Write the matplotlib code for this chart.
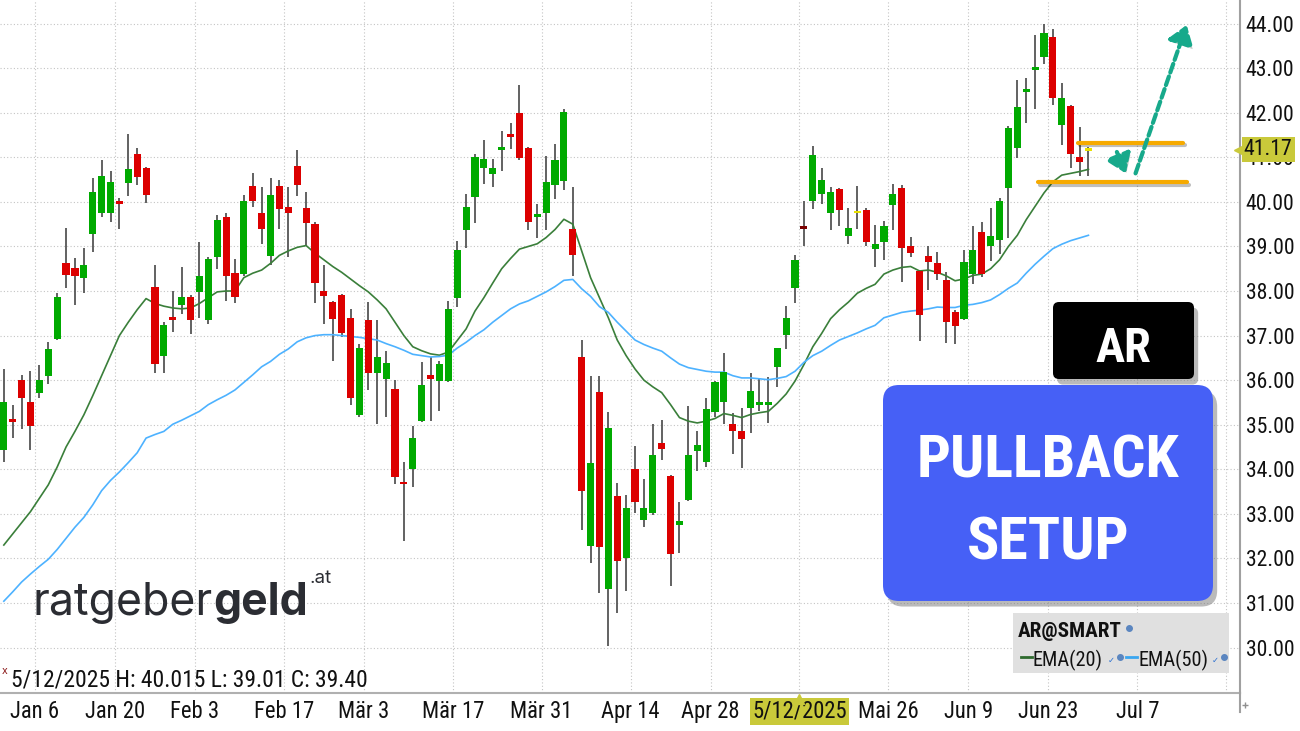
import os
import numpy as np
import pandas as pd
import matplotlib
matplotlib.use("Agg")
import matplotlib.pyplot as plt
import matplotlib.transforms as mtransforms
import matplotlib.patheffects as pe
from matplotlib import font_manager
from matplotlib.font_manager import FontProperties
from matplotlib.patches import FancyBboxPatch, Rectangle

# --- data (AR daily candles, Dec 30 2024 .. Jun 27 2025) ---
holidays = ["2025-01-01", "2025-01-09", "2025-01-20", "2025-02-17",
            "2025-04-18", "2025-05-26", "2025-06-19"]

opens = [34.43, 35.12, 36.01, 35.50, 35.71, 36.09, 36.93, 38.63, 38.51, 38.30,
         39.28, 39.74, 39.74, 40.00, 40.43, 41.07, 40.75, 38.10, 36.55, 37.41,
         37.69, 37.86, 37.97, 37.36, 38.76, 39.66, 38.40, 38.38, 40.36, 39.76,
         38.78, 40.36, 39.89, 40.81, 39.87, 39.51, 38.00, 37.76, 37.91, 37.40,
         35.22, 37.34, 36.15, 36.02, 35.80, 33.71, 34.01, 35.09, 36.12, 35.97,
         35.97, 37.85, 39.36, 40.12, 40.77, 40.63, 41.19, 41.52, 42.00, 41.22,
         39.68, 39.74, 40.39, 40.47, 39.40, 36.53, 32.28, 35.73, 31.31, 33.40,
         32.02, 34.00, 32.86, 33.02, 34.58, 33.85, 32.75, 33.30, 34.41, 34.16,
         35.29, 35.52, 35.01, 34.86, 35.38, 35.47, 35.47, 36.29, 37.02, 38.07,
         39.44, 40.02, 40.17, 39.74, 40.29, 39.23, 39.77, 39.81, 38.94, 39.09,
         39.92, 40.32, 39.00, 38.45, 38.79, 38.63, 38.24, 37.54, 37.38, 38.38,
         39.32, 39.00, 39.15, 40.32, 41.22, 42.49, 42.99, 43.25, 43.69, 41.72,
         42.16, 41.00, 41.17]
highs = [36.25, 35.45, 36.12, 36.20, 36.33, 36.86, 37.95, 39.42, 38.75, 38.96,
         40.53, 40.93, 40.70, 40.08, 41.52, 41.21, 40.78, 38.59, 37.31, 38.00,
         38.55, 37.91, 39.11, 38.76, 39.70, 39.76, 38.72, 40.16, 40.64, 40.34,
         40.53, 40.49, 40.33, 41.17, 40.22, 39.55, 38.59, 37.78, 37.93, 37.60,
         36.80, 37.76, 37.34, 36.65, 36.01, 34.16, 34.98, 36.40, 36.52, 36.42,
         37.77, 39.12, 40.18, 41.08, 41.39, 40.96, 41.60, 41.76, 42.63, 41.24,
         39.95, 41.03, 41.31, 42.08, 40.33, 36.89, 36.09, 36.09, 35.29, 33.69,
         33.43, 34.53, 33.79, 35.01, 35.10, 33.87, 33.26, 35.41, 34.86, 35.61,
         35.99, 36.61, 35.27, 35.38, 36.16, 36.02, 36.08, 36.73, 37.66, 38.81,
         40.015, 41.26, 40.75, 40.33, 40.31, 39.86, 40.36, 39.87, 39.49, 39.58,
         40.40, 40.39, 39.22, 38.47, 39.02, 38.87, 38.42, 37.57, 38.91, 39.46,
         39.55, 39.86, 40.09, 41.70, 42.73, 42.79, 43.74, 44.00, 43.89, 42.66,
         42.18, 41.69, 41.24]
lows = [34.16, 34.71, 34.90, 34.43, 35.61, 35.91, 36.89, 38.06, 37.68, 37.95,
        38.88, 39.65, 39.55, 39.40, 40.13, 40.39, 39.98, 36.15, 36.15, 37.08,
        37.48, 37.03, 37.40, 37.25, 38.49, 37.78, 37.74, 38.34, 39.89, 39.06,
        38.59, 39.40, 38.76, 40.13, 39.02, 37.74, 37.27, 36.42, 36.97, 35.44,
        35.18, 35.78, 35.01, 35.18, 33.66, 32.38, 33.60, 35.05, 35.09, 35.31,
        35.95, 37.64, 38.96, 39.53, 40.40, 40.33, 40.70, 41.19, 40.94, 39.38,
        39.20, 39.38, 40.06, 40.26, 38.33, 32.64, 31.89, 31.23, 30.04, 30.78,
        31.27, 33.02, 32.71, 32.98, 34.20, 31.38, 32.13, 33.28, 33.97, 34.05,
        35.18, 35.01, 34.34, 34.03, 34.82, 35.31, 35.03, 35.84, 36.69, 37.74,
        39.01, 39.83, 39.96, 39.36, 39.46, 39.06, 39.40, 39.02, 38.53, 38.70,
        39.36, 38.21, 38.76, 36.87, 38.02, 38.25, 36.83, 36.80, 37.34, 38.15,
        38.32, 38.68, 38.83, 39.19, 40.99, 41.76, 42.08, 43.10, 42.17, 41.28,
        40.75, 40.57, 40.57]
closes = [35.52, 35.08, 35.59, 34.96, 36.01, 36.69, 37.87, 38.35, 38.33, 38.59,
          40.23, 40.57, 40.45, 39.96, 40.74, 40.56, 40.16, 36.37, 37.23, 37.37,
          37.86, 37.34, 38.34, 38.72, 39.60, 38.33, 37.87, 40.02, 40.03, 39.40,
          40.16, 39.85, 39.75, 40.37, 39.52, 38.17, 37.89, 37.37, 37.06, 35.61,
          36.72, 36.16, 36.53, 36.39, 33.82, 33.67, 34.71, 35.89, 36.03, 36.37,
          37.59, 38.91, 39.88, 41.01, 40.97, 40.77, 41.22, 41.45, 40.98, 39.54,
          39.71, 40.45, 40.93, 42.02, 38.81, 33.51, 34.14, 32.25, 34.92, 31.95,
          33.13, 33.26, 33.13, 34.31, 34.45, 32.09, 32.84, 34.31, 34.54, 35.35,
          35.95, 36.19, 34.87, 34.69, 35.76, 35.49, 35.49, 36.72, 37.40, 38.70,
          39.40, 41.05, 40.50, 40.23, 39.81, 39.42, 39.77, 39.11, 39.05, 39.47,
          40.17, 38.97, 38.85, 37.47, 38.66, 38.38, 37.31, 37.21, 38.65, 38.92,
          38.38, 39.23, 40.03, 41.66, 42.12, 42.51, 43.01, 43.79, 42.32, 42.34,
          41.07, 40.89, 41.17]
ema20 = [32.30, 32.55, 32.80, 33.05, 33.35, 33.65, 34.05, 34.50, 34.85, 35.22,
         35.65, 36.10, 36.55, 37.00, 37.30, 37.58, 37.83, 37.72, 37.66, 37.62,
         37.60, 37.62, 37.72, 37.85, 37.98, 38.00, 38.00, 38.30, 38.40, 38.47,
         38.62, 38.80, 38.90, 38.98, 39.02, 38.85, 38.70, 38.55, 38.42, 38.27,
         38.12, 37.98, 37.80, 37.60, 37.30, 37.00, 36.75, 36.66, 36.59, 36.56,
         36.63, 36.89, 37.15, 37.55, 37.85, 38.18, 38.50, 38.73, 38.94, 39.00,
         39.06, 39.20, 39.38, 39.61, 39.50, 38.90, 38.30, 37.85, 37.40, 36.90,
         36.55, 36.25, 36.00, 35.85, 35.72, 35.45, 35.16, 35.08, 35.04, 35.08,
         35.14, 35.25, 35.21, 35.16, 35.23, 35.27, 35.30, 35.48, 35.69, 35.98,
         36.35, 36.75, 37.05, 37.38, 37.58, 37.75, 37.95, 38.06, 38.15, 38.38,
         38.47, 38.53, 38.55, 38.45, 38.47, 38.42, 38.34, 38.23, 38.27, 38.35,
         38.38, 38.50, 38.70, 39.00, 39.25, 39.60, 39.90, 40.20, 40.45, 40.60,
         40.64, 40.68, 40.73]
ema50 = [31.04, 31.25, 31.47, 31.65, 31.82, 31.98, 32.20, 32.45, 32.70, 32.92,
         33.20, 33.52, 33.75, 33.94, 34.15, 34.37, 34.70, 34.78, 34.85, 35.01,
         35.10, 35.20, 35.30, 35.45, 35.56, 35.66, 35.78, 35.95, 36.12, 36.30,
         36.42, 36.58, 36.70, 36.86, 36.95, 37.00, 37.02, 37.02, 37.00, 36.98,
         36.96, 36.93, 36.90, 36.82, 36.75, 36.67, 36.58, 36.55, 36.52, 36.53,
         36.56, 36.72, 36.85, 37.00, 37.13, 37.30, 37.45, 37.60, 37.71, 37.78,
         37.88, 37.98, 38.10, 38.24, 38.26, 38.05, 37.88, 37.65, 37.52, 37.30,
         37.10, 36.90, 36.80, 36.72, 36.65, 36.50, 36.36, 36.28, 36.24, 36.20,
         36.18, 36.18, 36.10, 36.05, 36.05, 36.03, 36.01, 36.04, 36.08, 36.20,
         36.40, 36.55, 36.65, 36.78, 36.90, 36.98, 37.06, 37.15, 37.23, 37.40,
         37.46, 37.52, 37.55, 37.57, 37.60, 37.64, 37.63, 37.63, 37.68, 37.70,
         37.74, 37.80, 37.92, 38.06, 38.18, 38.40, 38.60, 38.78, 38.95, 39.05,
         39.13, 39.19, 39.25]

tick_dates = ["2025-01-06", "2025-01-20", "2025-02-03", "2025-02-17", "2025-03-03",
              "2025-03-17", "2025-03-31", "2025-04-14", "2025-04-28", "2025-05-12",
              "2025-05-26", "2025-06-09", "2025-06-23", "2025-07-07", "2025-07-21"]
tick_labels = ["Jan 6", "Jan 20", "Feb 3", "Feb 17", "Mär 3", "Mär 17", "Mär 31",
               "Apr 14", "Apr 28", "5/12/2025", "Mai 26", "Jun 9", "Jun 23", "Jul 7", ""]
selected_day = "2025-05-12"
price_ticks = list(range(30, 45))

# pullback setup drawing levels
resistance = 41.33
support = 40.45
target = 43.97


# --- fonts: look for a condensed face, fall back to DejaVu Sans ---
def pick_font(target_weight):
    prefs = ["liberationsansnarrow", "robotocondensed", "notosanscondensed",
             "opensanscondensed", "dejavusanscondensed", "condensed", "narrow"]
    best, best_score = None, None
    for f in font_manager.fontManager.ttflist:
        key = os.path.basename(f.fname).lower().replace("-", "").replace("_", "")
        if "narrow" not in key and "condensed" not in key:
            continue
        if any(s in key for s in ("semi", "extra", "ultra", "italic", "oblique")):
            continue
        w = f.weight if isinstance(f.weight, int) else 400
        rank = next(i for i, p in enumerate(prefs) if p in key)
        score = rank * 1000 + abs(w - target_weight)
        if abs(w - target_weight) > 250:
            continue
        if best_score is None or score < best_score:
            best, best_score = f, score
    if best is None:
        return FontProperties(family="DejaVu Sans",
                              weight="bold" if target_weight >= 600 else "normal")
    return FontProperties(fname=best.fname)


F_REG = pick_font(400)
F_BOLD = pick_font(700)
F_HEAVY = pick_font(900)
names = {f.name for f in font_manager.fontManager.ttflist}
LOGO = "Inter" if "Inter" in names else "DejaVu Sans"

GREEN = "#00aa00"
RED = "#dc0000"
YELLOW = "#e8e000"
SEL = "#7a0000"
TAG = "#c9c93a"
ORANGE = "#f6aa00"
TEAL = "#17a98b"

# trading calendar (future part without holidays like the chart software)
days = pd.bdate_range("2024-12-30", "2025-06-27")
days = days[~days.isin(pd.to_datetime(holidays))]
all_days = days.append(pd.bdate_range("2025-06-30", "2025-08-01"))
tick_pos = [all_days.searchsorted(pd.Timestamp(d)) - 0.5 for d in tick_dates]

o = np.array(opens)
h = np.array(highs)
l = np.array(lows)
c = np.array(closes)
x = np.arange(len(days))
sel = days.get_loc(pd.Timestamp(selected_day))

fig = plt.figure(figsize=(13, 7.31), dpi=100)
renderer = fig.canvas.get_renderer()


def size_for(text, prop, width):
    # font size that gives the text the wanted width in pixels
    t = fig.text(0, 0, text, fontproperties=prop, fontsize=20)
    w = t.get_window_extent(renderer).width
    t.remove()
    return 20 * width / w


def with_size(prop, size):
    p = prop.copy()
    p.set_size(size)
    return p


ax = fig.add_axes([0, 1 - 693 / 731, 1240 / 1300, 693 / 731])

# candles
cols = np.where(c > o, GREEN, np.where(c < o, RED, YELLOW)).astype(object)
cols[sel] = SEL
body = np.maximum(np.abs(c - o), 0.06)
bottom = (o + c) / 2 - body / 2
ax.vlines(x, l, h, color="#555555", lw=1.3, zorder=2)
ax.bar(x, body, bottom=bottom, width=0.8, color=list(cols), linewidth=0, zorder=3)

# moving averages
ax.plot(x, ema20, color="#3a7f3a", lw=1.2, zorder=2.5)
ax.plot(x, ema50, color="#4db2ff", lw=1.2, zorder=2.5)

xfont = with_size(F_REG, size_for("Feb 17", F_REG, 60))
yfont = with_size(F_REG, size_for("44.00", F_REG, 49))

ax.set_xlim(-0.43, 139.05)
ax.set_ylim(28.98, 44.53)
ax.set_xticks(tick_pos, tick_labels, fontproperties=xfont)
ax.set_yticks(price_ticks, [f"{v:.2f}" for v in price_ticks], fontproperties=yfont)
ax.yaxis.tick_right()
ax.tick_params(axis="x", length=0, pad=5, colors="#111111")
ax.tick_params(axis="y", length=0, pad=4, colors="#111111")
ax.grid(True, color="#c4c4c4", lw=0.8, linestyle=(0, (1, 2)))
ax.set_axisbelow(True)
for s in ["top", "left"]:
    ax.spines[s].set_visible(False)
ax.spines["right"].set_color("#a0a0a0")
ax.spines["right"].set_linewidth(1.5)
ax.spines["bottom"].set_color("#b0b0b0")
ax.spines["bottom"].set_linewidth(1.5)

# highlighted date on the x axis
hi = tick_labels.index("5/12/2025")
ax.get_xticklabels()[hi].set_bbox(dict(facecolor=TAG, edgecolor="none", pad=1.5))
bt = mtransforms.blended_transform_factory(ax.transData, ax.transAxes)
ax.plot([tick_pos[hi]], [-0.008], marker="^", ms=7, color=TAG, transform=bt,
        clip_on=False, zorder=5)

# last price tag
rt = mtransforms.blended_transform_factory(ax.transAxes, ax.transData)
ax.plot([1.0], [c[-1]], marker="<", ms=9, color=TAG, transform=rt, clip_on=False, zorder=9)
ax.text(1.003, c[-1], f"{c[-1]:.2f}", transform=rt, va="center", ha="left",
        fontproperties=yfont, color="#111111", clip_on=False, zorder=10,
        bbox=dict(boxstyle="square,pad=0.1", facecolor=TAG, edgecolor="none"))

# pullback setup lines and arrows
last = x[-1]
shadow = [pe.SimpleLineShadow(offset=(1.5, -2), alpha=0.25), pe.Normal()]
ax.plot([last - 1.2, last + 10.6], [resistance, resistance], color=ORANGE, lw=3,
        solid_capstyle="round", path_effects=shadow, zorder=6)
ax.plot([last - 5.7, last + 11.1], [support, support], color=ORANGE, lw=3,
        solid_capstyle="round", path_effects=shadow, zorder=6)
arrow = dict(arrowstyle="-|>,head_length=0.5,head_width=0.35", color=TEAL, lw=3,
             linestyle=(0, (2.2, 1.0)), mutation_scale=22, shrinkA=0, shrinkB=0,
             path_effects=[pe.withSimplePatchShadow(offset=(1.5, -2), alpha=0.25)])
ax.annotate("", xy=(last + 4.2, support + 0.19), xytext=(last + 3.2, resistance - 0.21),
            arrowprops=arrow, zorder=7)
ax.annotate("", xy=(last + 11.05, target), xytext=(last + 5.3, support + 0.19),
            arrowprops=arrow, zorder=7)

# --- overlay in pixel coordinates ---
ov = fig.add_axes([0, 0, 1, 1], zorder=5)
ov.set_xlim(0, 1300)
ov.set_ylim(731, 0)
ov.axis("off")

# right axis runs a bit below the date axis
ov.plot([1240, 1240], [693, 712], color="#a0a0a0", lw=1.5)
ov.plot([1245], [705], marker="+", ms=4, color="#909090", mew=1)

box_shadow = [pe.withSimplePatchShadow(offset=(3, -4), shadow_rgbFace="#777777", alpha=0.5)]
ov.add_patch(FancyBboxPatch((1053, 302), 141, 77, boxstyle="round,pad=0,rounding_size=6",
                            facecolor="black", edgecolor="none", path_effects=box_shadow))
ov.text(1123, 362, "AR", ha="center", va="baseline", color="white",
        fontproperties=with_size(F_HEAVY, size_for("AR", F_HEAVY, 56)))
ov.add_patch(FancyBboxPatch((883, 385), 330, 216, boxstyle="round,pad=0,rounding_size=16",
                            facecolor="#4660f6", edgecolor="none", path_effects=box_shadow))
big = with_size(F_HEAVY, size_for("PULLBACK", F_HEAVY, 263))
ov.text(1048, 478, "PULLBACK", ha="center", va="baseline", color="white", fontproperties=big)
ov.text(1048, 560, "SETUP", ha="center", va="baseline", color="white", fontproperties=big)

# legend box
ov.add_patch(Rectangle((1013, 613), 216, 60, facecolor="#e0e0e0", edgecolor="none"))
ov.text(1018, 637, "AR@SMART", color="#111111", va="baseline",
        fontproperties=with_size(F_BOLD, size_for("AR@SMART", F_BOLD, 104)))
ov.plot([1129], [628], marker="o", ms=4, color="#5b86c0")
lfont = with_size(F_REG, size_for("EMA(20)", F_REG, 70))
ov.plot([1021, 1032], [657, 657], color="#2e6b2e", lw=2)
ov.text(1033, 666, "EMA(20)", color="#111111", va="baseline", fontproperties=lfont)
ov.plot([1126, 1137], [657, 657], color="#3aa6f0", lw=2)
ov.text(1139, 666, "EMA(50)", color="#111111", va="baseline", fontproperties=lfont)
for cx in [1111, 1215]:
    ov.text(cx, 660, "\u2713", fontsize=6, color="#2a6fd0", ha="center", va="center",
            family="DejaVu Sans")
    ov.plot([cx + 9], [657], marker="o", ms=4, color="#5b86c0")

# info line for the selected bar
ov.text(5, 671, "x", fontsize=7, color="#8b1a1a", ha="center", va="center")
info = (f"{days[sel].month}/{days[sel].day}/{days[sel].year} H: {h[sel]:.3f} "
        f"L: {l[sel]:.2f} C: {c[sel]:.2f}")
ov.text(11, 687, info, color="#111111", va="baseline",
        fontproperties=with_size(F_REG, size_for(info, F_REG, 356)))

# logo
logo_col = "#2b2d33"
logo_reg = FontProperties(family=LOGO)
logo_size = size_for("ratgeber", logo_reg, 180)
t1 = ov.text(33, 615, "ratgeber", family=LOGO, fontsize=logo_size, color=logo_col,
             va="baseline")
t2 = ov.annotate("geld", xy=(1, 615), xycoords=(t1, "data"), family=LOGO,
                 fontsize=logo_size, fontweight="bold", color=logo_col,
                 va="baseline", ha="left")
ov.annotate(".at", xy=(1, 583), xycoords=(t2, "data"), xytext=(1, 0),
            textcoords="offset points", family=LOGO, fontsize=logo_size * 0.42,
            color=logo_col, va="baseline", ha="left")

fig.savefig("out.png", dpi=100, facecolor="white")
